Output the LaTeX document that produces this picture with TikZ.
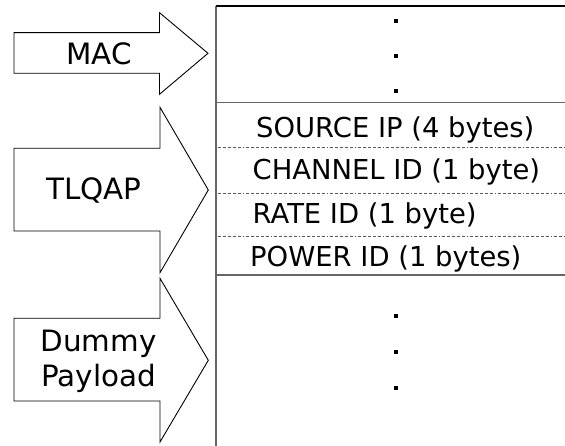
\documentclass[tikz,border=0pt]{standalone}
\usepackage{fontspec}
\setmainfont{DejaVu Sans}
\begin{document}
\begin{tikzpicture}[x=1pt,y=-1pt,
  blockarrow/.style={draw=black, line width=0.9pt, line join=miter},
  lbl/.style={inner sep=0pt, anchor=base, font=\fontsize{29.4}{35}\selectfont},
  field/.style={inner sep=0pt, anchor=base west, font=\fontsize{27.4}{32}\selectfont},
  toprule/.style={draw=black, line width=1.5pt},
  midrule/.style={draw=black!60, line width=1.3pt},
  leftrule/.style={draw=black!60, line width=1.2pt},
  sepline/.style={draw=black!65, line width=0.8pt,
    dash pattern=on 3pt off 2pt on 3pt off 2pt on 3pt off 2pt on 3pt off 2pt on 3pt off 2pt on 1pt off 2pt},
  dotmark/.style={fill=black, draw=none, minimum size=4pt, inner sep=0pt, shape=rectangle}]
\useasboundingbox (0,0) rectangle (565,446);

% block arrows
\draw[blockarrow] (14,32.7) -- (159.5,32.7) -- (159.5,12.7) -- (208,53.3) -- (159.5,94.3) -- (159.5,73.3) -- (14,73.3) -- cycle;
\draw[blockarrow] (14,148.3) -- (160,148.3) -- (160,107.3) -- (208.3,190) -- (160,272.7) -- (160,231) -- (14,231) -- cycle;
\draw[blockarrow] (14,318.3) -- (160,318.3) -- (160,278.3) -- (208.3,360.3) -- (160,442) -- (160,401) -- (14,401) -- cycle;

% arrow labels
\node[lbl] (mac) at (99,64.3) {MAC};
\node[lbl] (tlqap) at (94,200) {TLQAP};
\node[lbl] (dummy) at (98.5,352) {Dummy};
\node[lbl] (payload) at (98.7,386.7) {Payload};

% frame
\coordinate (tl) at (216,6);
\coordinate (tr) at (565,6);
\coordinate (bl) at (216,446);
\coordinate (m1l) at (216,102.5);
\coordinate (m1r) at (565,102.5);
\coordinate (m2l) at (216,275);
\coordinate (m2r) at (565,275);
\draw[leftrule] (tl) -- (bl);
\draw[midrule] (m1l) -- (m1r);
\draw[midrule] (m2l) -- (m2r);
\draw[toprule] (tl) -- (tr);

% dashed separators
\coordinate (d1l) at (218,147.7); \coordinate (d1r) at (565,147.7);
\coordinate (d2l) at (218,193.3); \coordinate (d2r) at (565,193.3);
\coordinate (d3l) at (218,236.7); \coordinate (d3r) at (565,236.7);
\draw[sepline] (d1l) -- (d1r);
\draw[sepline] (d2l) -- (d2r);
\draw[sepline] (d3l) -- (d3r);

% fields
\node[field] (src) at (256,137.3) {SOURCE IP (4 bytes)};
\node[field] (chan) at (252.5,180) {CHANNEL ID (1 byte)};
\node[field] (rate) at (252.5,224) {RATE ID (1 byte)};
\node[field] (pow) at (250,266.7) {POWER ID (1 bytes)};

% ellipsis dots
\node[dotmark] (t1) at (396,20.7) {};
\node[dotmark] (t2) at (396,55.7) {};
\node[dotmark] (t3) at (396,90.7) {};
\node[dotmark] (b1) at (396,315.7) {};
\node[dotmark] (b2) at (396,351.7) {};
\node[dotmark] (b3) at (396,387.7) {};
\end{tikzpicture}
\end{document}
